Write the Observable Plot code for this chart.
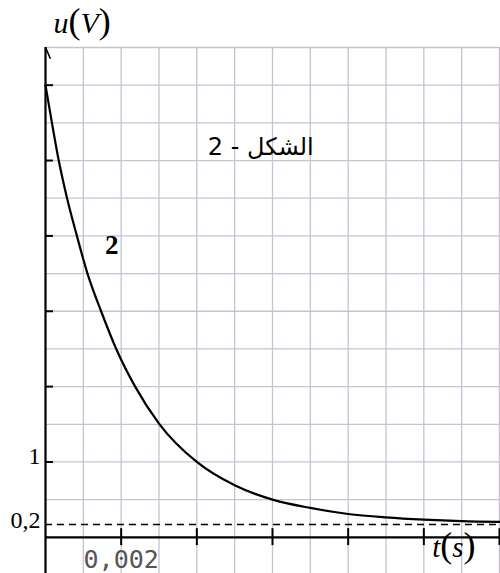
<!DOCTYPE html>
<html>
<head>
<meta charset="utf-8">
<script src="https://cdn.jsdelivr.net/npm/d3@7"></script>
<script src="https://cdn.jsdelivr.net/npm/@observablehq/plot@0.6"></script>
<style>
  html, body { margin: 0; padding: 0; background: white; }
</style>
</head>
<body>
<div id="chart"></div>
<script>
// Data: time (s) and voltage (V)
const times =    [0, 0.00017, 0.00035, 0.00057, 0.00083, 0.00111, 0.00147, 0.00187, 0.00237, 0.003, 0.004, 0.005, 0.006, 0.007, 0.008, 0.009, 0.010, 0.011, 0.012];
const voltages = [6.0, 5.5,   5.0,     4.5,     4.0,     3.5,     3.0,     2.5,     2.0,     1.51,  1.0,   0.69,  0.50,  0.39,  0.31,  0.265, 0.235, 0.215, 0.205];

// Asymptote (dashed line), as drawn
const asymptoteValue = [0.17];
const asymptoteLabel = ["0,2"];

// Axis ticks and labels
const xTicks = [0.002, 0.004, 0.006, 0.008, 0.010, 0.012];
const xTickLabels = [{t: 0.002, label: "0,002"}];
const yTicks = [1, 2, 3, 4, 5, 6];
const yTickLabels = [{u: 1, label: "1"}];

// Grid
const gridT = [0.001, 0.002, 0.003, 0.004, 0.005, 0.006, 0.007, 0.008, 0.009, 0.010, 0.011, 0.012];
const gridU = [0.5, 1, 1.5, 2, 2.5, 3, 3.5, 4, 4.5, 5, 5.5, 6, 6.5];

// Annotations
const curveLabel = [{t: 0.00175, u: 3.87, text: "2"}];
const figureLabel = [{t: 0.00569, u: 5.17, text: "الشكل - 2"}];
const axisArrow = [{t1: 0, u1: 6.5, t2: 0.00013, u2: 6.35}];

const curve = times.map((t, i) => ({t, u: voltages[i]}));

const serif = "Liberation Serif, Times New Roman, DejaVu Serif, serif";

const chart = Plot.plot({
  width: 500,
  height: 573,
  marginLeft: 45,
  marginRight: 1,
  marginTop: 47,
  marginBottom: 0,
  x: {domain: [0, 0.012], axis: null},
  y: {domain: [-0.48, 6.5], axis: null},
  style: {background: "white", fontFamily: serif},
  marks: [
    // grid
    Plot.ruleX(gridT, {stroke: "#c6c2d4", strokeWidth: 1.3}),
    Plot.ruleY(gridU, {stroke: "#c6c2d4", strokeWidth: 1.3}),
    // asymptote
    Plot.ruleY(asymptoteValue, {stroke: "black", strokeWidth: 1.6, strokeDasharray: "7,5"}),
    // axes
    Plot.ruleY([0], {stroke: "black", strokeWidth: 2.4}),
    Plot.ruleX([0], {stroke: "black", strokeWidth: 2.2}),
    Plot.link(axisArrow, {x1: "t1", y1: "u1", x2: "t2", y2: "u2", stroke: "black", strokeWidth: 1.6}),
    // ticks
    Plot.ruleX(xTicks, {y1: -0.11, y2: 0.115, stroke: "black", strokeWidth: 2}),
    Plot.ruleY(yTicks, {x1: 0, x2: 0.00021, stroke: "black", strokeWidth: 2}),
    // curve
    Plot.line(curve, {x: "t", y: "u", stroke: "black", strokeWidth: 2.2, curve: "monotone-x"}),
    // tick labels
    Plot.text(yTickLabels, {x: 0, y: "u", text: "label", textAnchor: "end", dx: -5, dy: -6, fontSize: 24, fill: "black", fontFamily: serif}),
    Plot.text(asymptoteValue, {x: 0, y: d => d, text: (d, i) => asymptoteLabel[i], textAnchor: "end", dx: -5, dy: -4, fontSize: 24, fill: "black", fontFamily: serif}),
    Plot.text(xTickLabels, {x: "t", y: 0, text: "label", dy: 23, fontSize: 25, fill: "#555", fontFamily: "DejaVu Sans Mono, monospace"}),
    // annotations
    Plot.text(curveLabel, {x: "t", y: "u", text: "text", fontSize: 27, fontWeight: "bold", fill: "black", fontFamily: serif}),
    Plot.text(figureLabel, {x: "t", y: "u", text: "text", fontSize: 24, fill: "black", fontFamily: "DejaVu Sans, sans-serif"}),
    // axis titles
    Plot.text(["u(V)"], {frameAnchor: "top-left", textAnchor: "start", dx: 8, dy: -36, fontSize: 30, fill: "black", fontFamily: serif}),
    Plot.text(["t(s)"], {frameAnchor: "bottom-right", textAnchor: "end", dx: -24, dy: -17, fontSize: 29, fill: "black", fontFamily: serif})
  ]
});

// Styling of axis titles: italic letters, upright taller parentheses; RTL for Arabic label
chart.querySelectorAll("text").forEach(el => {
  const s = el.textContent;
  if (s === "u(V)" || s === "t(s)") {
    const [a, b] = [s[0], s[2]];
    el.innerHTML = `<tspan font-style="italic">${a}</tspan><tspan font-size="36">(</tspan><tspan font-style="italic">${b}</tspan><tspan font-size="36">)</tspan>`;
  }
  if (s.includes("الشكل")) {
    el.setAttribute("direction", "rtl");
    el.setAttribute("unicode-bidi", "embed");
  }
});

document.getElementById("chart").appendChild(chart);
</script>
</body>
</html>
